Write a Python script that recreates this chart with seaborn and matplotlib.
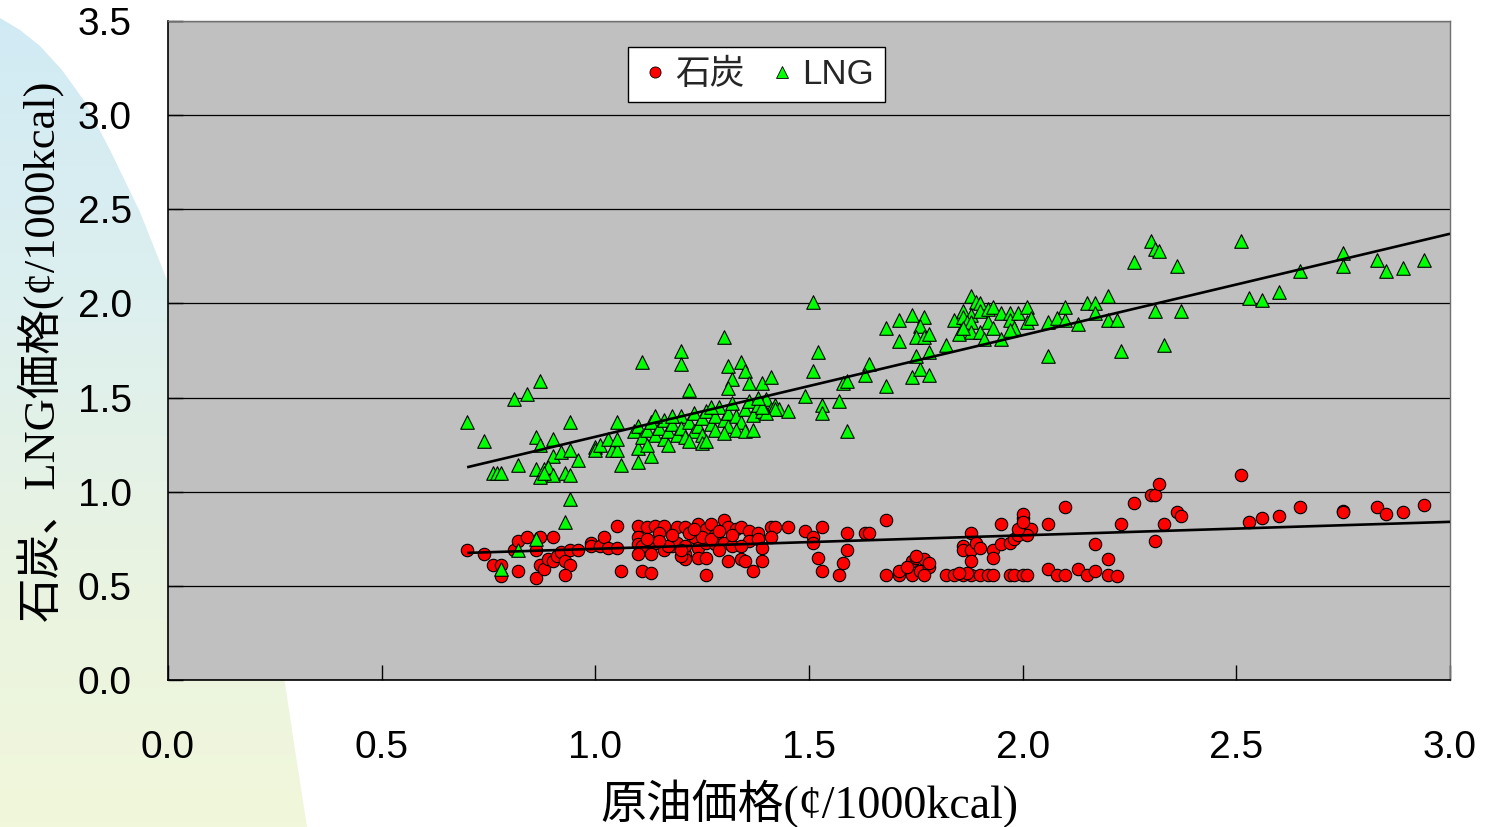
import numpy as np
import pandas as pd
import matplotlib
matplotlib.use("Agg")
import matplotlib.pyplot as plt
import seaborn as sns
from matplotlib.lines import Line2D
from matplotlib.path import Path
from matplotlib.colors import LinearSegmentedColormap
from matplotlib.font_manager import FontProperties

# ---------------- data ----------------
series_names = ["石炭", "LNG"]

coal_x = [0.70, 0.74, 0.76, 0.78, 0.78, 0.81, 0.82, 0.84, 0.82, 0.86,
          0.87, 0.86, 0.87, 0.88, 0.89, 0.90, 0.91, 0.92, 0.93, 0.94,
          0.94, 0.90, 0.93, 0.96, 0.99, 0.99, 1.01, 1.02, 1.03, 1.05,
          1.05, 1.06, 1.10, 1.12, 1.14, 1.16, 1.19, 1.10, 1.10, 1.11,
          1.13, 1.14, 1.15, 1.16, 1.18, 1.11, 1.13, 1.10, 1.13, 1.21,
          1.21, 1.20, 1.19, 1.17, 1.21, 1.23, 1.24, 1.26, 1.27, 1.28,
          1.30, 1.31, 1.33, 1.21, 1.24, 1.26, 1.28, 1.30, 1.32, 1.24,
          1.26, 1.26, 1.31, 1.34, 1.35, 1.37, 1.39, 1.34, 1.36, 1.38,
          1.41, 1.42, 1.36, 1.38, 1.39, 1.41, 1.22, 1.25, 1.27, 1.29,
          1.32, 1.23, 1.18, 1.15, 1.12, 1.20, 1.29, 1.34, 1.45, 1.49,
          1.51, 1.51, 1.53, 1.52, 1.53, 1.57, 1.58, 1.59, 1.59, 1.63,
          1.64, 1.68, 1.68, 1.71, 1.71, 1.74, 1.74, 1.75, 1.77, 1.76,
          1.78, 1.78, 1.77, 1.75, 1.73, 1.82, 1.84, 1.86, 1.88, 1.90,
          1.92, 1.93, 1.87, 1.85, 1.86, 1.86, 1.88, 1.88, 1.89, 1.90,
          1.93, 1.93, 1.88, 1.95, 1.95, 1.97, 1.98, 1.99, 2.00, 2.00,
          2.00, 2.00, 2.01, 2.02, 2.01, 1.99, 2.00, 1.97, 1.98, 2.00,
          2.01, 2.06, 2.10, 2.06, 2.08, 2.10, 2.13, 2.15, 2.17, 2.20,
          2.22, 2.17, 2.20, 2.23, 2.26, 2.30, 2.31, 2.32, 2.31, 2.33,
          2.36, 2.37, 2.51, 2.53, 2.56, 2.60, 2.65, 2.75, 2.75, 2.83,
          2.85, 2.89, 2.94]
coal_y = [0.69, 0.67, 0.61, 0.61, 0.55, 0.69, 0.74, 0.76, 0.58, 0.69,
          0.76, 0.54, 0.61, 0.59, 0.64, 0.63, 0.66, 0.68, 0.63, 0.69,
          0.61, 0.76, 0.56, 0.69, 0.73, 0.71, 0.71, 0.76, 0.70, 0.82,
          0.70, 0.58, 0.82, 0.81, 0.82, 0.82, 0.81, 0.76, 0.72, 0.71,
          0.73, 0.73, 0.78, 0.69, 0.71, 0.58, 0.57, 0.67, 0.67, 0.67,
          0.64, 0.66, 0.73, 0.71, 0.81, 0.76, 0.83, 0.80, 0.83, 0.77,
          0.85, 0.81, 0.80, 0.71, 0.70, 0.73, 0.72, 0.73, 0.71, 0.65,
          0.65, 0.56, 0.63, 0.64, 0.63, 0.58, 0.63, 0.81, 0.79, 0.78,
          0.81, 0.81, 0.74, 0.75, 0.70, 0.76, 0.78, 0.76, 0.75, 0.79,
          0.77, 0.80, 0.77, 0.74, 0.75, 0.69, 0.69, 0.71, 0.81, 0.79,
          0.76, 0.73, 0.81, 0.65, 0.58, 0.56, 0.62, 0.69, 0.78, 0.78,
          0.78, 0.85, 0.56, 0.56, 0.58, 0.56, 0.63, 0.65, 0.64, 0.58,
          0.60, 0.62, 0.56, 0.66, 0.60, 0.56, 0.56, 0.56, 0.56, 0.56,
          0.56, 0.56, 0.57, 0.57, 0.71, 0.69, 0.78, 0.69, 0.73, 0.70,
          0.69, 0.65, 0.63, 0.83, 0.72, 0.73, 0.75, 0.77, 0.79, 0.82,
          0.86, 0.88, 0.80, 0.80, 0.77, 0.80, 0.84, 0.56, 0.56, 0.56,
          0.56, 0.83, 0.92, 0.59, 0.56, 0.56, 0.59, 0.56, 0.58, 0.56,
          0.55, 0.72, 0.64, 0.83, 0.94, 0.98, 0.98, 1.04, 0.74, 0.83,
          0.89, 0.87, 1.09, 0.84, 0.86, 0.87, 0.92, 0.90, 0.89, 0.92,
          0.88, 0.89, 0.93]

lng_x = [0.70, 0.74, 0.76, 0.77, 0.78, 0.78, 0.82, 0.86, 0.93, 0.94,
         0.81, 0.84, 0.87, 0.82, 0.86, 0.87, 0.90, 0.90, 0.86, 0.87,
         0.88, 0.89, 0.90, 0.88, 0.92, 0.94, 0.94, 0.93, 0.94, 0.96,
         1.00, 1.00, 1.01, 1.03, 1.04, 1.05, 1.05, 1.05, 1.06, 1.11,
         1.20, 1.20, 1.22, 1.10, 1.10, 1.13, 1.09, 1.10, 1.11, 1.12,
         1.13, 1.14, 1.15, 1.16, 1.16, 1.17, 1.18, 1.19, 1.20, 1.20,
         1.21, 1.22, 1.23, 1.23, 1.24, 1.25, 1.25, 1.26, 1.27, 1.28,
         1.28, 1.29, 1.30, 1.31, 1.31, 1.32, 1.33, 1.34, 1.35, 1.36,
         1.37, 1.38, 1.39, 1.40, 1.41, 1.42, 1.43, 1.22, 1.25, 1.18,
         1.14, 1.12, 1.27, 1.30, 1.33, 1.35, 1.17, 1.26, 1.37, 1.51,
         1.30, 1.31, 1.34, 1.35, 1.32, 1.31, 1.36, 1.39, 1.41, 1.52,
         1.51, 1.49, 1.53, 1.53, 1.57, 1.59, 1.58, 1.59, 1.45, 1.42,
         1.40, 1.39, 1.38, 1.64, 1.63, 1.68, 1.68, 1.71, 1.71, 1.74,
         1.77, 1.76, 1.75, 1.77, 1.78, 1.74, 1.76, 1.78, 1.75, 1.78,
         1.82, 1.88, 1.89, 1.90, 1.84, 1.86, 1.86, 1.88, 1.90, 1.87,
         1.88, 1.85, 1.88, 1.90, 1.86, 1.92, 1.93, 1.92, 1.93, 1.95,
         1.97, 1.97, 1.99, 2.01, 2.01, 2.02, 1.98, 1.97, 1.91, 1.95,
         2.06, 2.08, 2.10, 2.10, 2.13, 2.15, 2.17, 2.17, 2.20, 2.20,
         2.22, 2.06, 2.23, 2.31, 2.33, 2.26, 2.30, 2.31, 2.32, 2.36,
         2.37, 2.51, 2.53, 2.56, 2.60, 2.65, 2.75, 2.75, 2.83, 2.85,
         2.89, 2.94]
lng_y = [1.37, 1.27, 1.10, 1.10, 1.10, 0.59, 0.69, 0.75, 0.84, 0.96,
         1.49, 1.52, 1.59, 1.14, 1.29, 1.25, 1.28, 1.19, 1.12, 1.08,
         1.12, 1.13, 1.09, 1.10, 1.21, 1.37, 1.22, 1.10, 1.09, 1.17,
         1.24, 1.22, 1.25, 1.28, 1.22, 1.22, 1.28, 1.37, 1.14, 1.69,
         1.75, 1.68, 1.54, 1.23, 1.16, 1.19, 1.32, 1.35, 1.29, 1.33,
         1.37, 1.30, 1.34, 1.38, 1.28, 1.32, 1.36, 1.30, 1.40, 1.34,
         1.29, 1.37, 1.42, 1.32, 1.35, 1.39, 1.30, 1.43, 1.36, 1.33,
         1.40, 1.45, 1.38, 1.35, 1.42, 1.47, 1.40, 1.37, 1.44, 1.48,
         1.41, 1.46, 1.43, 1.49, 1.44, 1.46, 1.44, 1.27, 1.26, 1.40,
         1.40, 1.25, 1.45, 1.31, 1.33, 1.32, 1.25, 1.27, 1.33, 2.01,
         1.82, 1.67, 1.69, 1.64, 1.60, 1.55, 1.58, 1.58, 1.61, 1.74,
         1.64, 1.51, 1.46, 1.42, 1.48, 1.32, 1.58, 1.59, 1.43, 1.44,
         1.42, 1.45, 1.50, 1.68, 1.62, 1.56, 1.87, 1.91, 1.80, 1.94,
         1.93, 1.88, 1.82, 1.82, 1.84, 1.61, 1.65, 1.62, 1.72, 1.74,
         1.78, 2.04, 2.01, 2.00, 1.91, 1.96, 1.93, 1.94, 1.96, 1.90,
         1.90, 1.84, 1.85, 1.85, 1.87, 1.90, 1.87, 1.97, 1.98, 1.95,
         1.95, 1.91, 1.95, 1.98, 1.90, 1.92, 1.87, 1.86, 1.81, 1.81,
         1.90, 1.92, 1.91, 1.98, 1.89, 2.00, 2.00, 1.95, 2.04, 1.91,
         1.91, 1.72, 1.75, 1.96, 1.78, 2.22, 2.33, 2.29, 2.28, 2.20,
         1.96, 2.33, 2.03, 2.02, 2.06, 2.17, 2.27, 2.20, 2.23, 2.17,
         2.19, 2.23]

# trend lines (start / end)
trend_x = [0.70, 3.00]
coal_trend = [0.675, 0.84]
lng_trend = [1.13, 2.37]

x_ticks = [0.0, 0.5, 1.0, 1.5, 2.0, 2.5, 3.0]
y_ticks = [0.0, 0.5, 1.0, 1.5, 2.0, 2.5, 3.0, 3.5]
x_label = "原油価格(¢/1000kcal)"
y_label = "石炭、LNG価格(¢/1000kcal)"

# ---------------- style ----------------
sns.set_theme(style="white")
plt.rcParams["font.family"] = ["Liberation Sans", "Noto Sans CJK JP", "DejaVu Sans"]

W, H = 1487, 827
fig = plt.figure(figsize=(W / 100, H / 100), dpi=100)
fig.patch.set_facecolor("white")

# decorative gradient swoosh at the left
bg = fig.add_axes([0, 0, 1, 1], zorder=-10)
bg.set_xlim(0, W)
bg.set_ylim(H, 0)
bg.axis("off")
cmap = LinearSegmentedColormap.from_list(
    "swoosh", ["#d0eaf4", "#dceff0", "#e8f3e2", "#f1f7da"])
grad = np.linspace(0, 1, 256)[:, None]
im = bg.imshow(grad, extent=[0, W, H, 0], cmap=cmap, aspect="auto",
               interpolation="bilinear")
edge = [(0, 18), (20, 30), (40, 46), (62, 70), (85, 102), (110, 150),
        (140, 212), (167, 280), (195, 355), (225, 440), (250, 520),
        (268, 590), (283, 670), (295, 750), (307, 827), (0, 827)]
clip = Path(edge + [edge[0]], closed=True)
im.set_clip_path(clip, transform=bg.transData)

# main axes
L, R, T, B = 168, 1450, 21, 680
ax = fig.add_axes([L / W, (H - B) / H, (R - L) / W, (B - T) / H])
ax.set_facecolor("#c0c0c0")

df_coal = pd.DataFrame({"x": coal_x, "y": coal_y, "燃料": series_names[0]})
df_lng = pd.DataFrame({"x": lng_x, "y": lng_y, "燃料": series_names[1]})

sns.scatterplot(data=df_coal, x="x", y="y", marker="o", color="#ff0000",
                edgecolor="black", linewidth=0.8, s=80, ax=ax, zorder=3,
                legend=False)
sns.scatterplot(data=df_lng, x="x", y="y", marker="^", color="#00ff00",
                edgecolor="black", linewidth=0.8, s=95, ax=ax, zorder=4,
                legend=False)
ax.plot(trend_x, coal_trend, color="black", lw=1.9, zorder=5,
        solid_capstyle="butt")
ax.plot(trend_x, lng_trend, color="black", lw=1.9, zorder=5,
        solid_capstyle="butt")

ax.set_xlim(0, 3.0)
ax.set_ylim(0, 3.5)
ax.set_xticks(x_ticks)
ax.set_yticks(y_ticks)
ax.set_xticklabels([f"{v:.1f}" for v in x_ticks])
ax.set_yticklabels([f"{v:.1f}" for v in y_ticks])
ax.yaxis.grid(True, color="black", lw=0.9)
ax.xaxis.grid(False)
ax.set_axisbelow(True)

tick_font = FontProperties(family=["Liberation Sans"], size=28)
for lab in ax.get_xticklabels() + ax.get_yticklabels():
    lab.set_fontproperties(tick_font)
    lab.set_color("black")
ax.tick_params(axis="x", direction="in", length=11, width=1, color="black",
               pad=36, bottom=True)
ax.tick_params(axis="y", direction="in", length=11, width=1, color="black",
               pad=26, left=True)

for s in ["left", "bottom"]:
    ax.spines[s].set_color("black")
    ax.spines[s].set_linewidth(1.2)
for s in ["top", "right"]:
    ax.spines[s].set_color("#707070")
    ax.spines[s].set_linewidth(1.0)

xlabel_font = FontProperties(family=["Liberation Serif", "Noto Sans CJK JP"], size=33)
ylabel_font = FontProperties(family=["Liberation Serif", "Noto Sans CJK JP"], size=32)
ax.set_xlabel(x_label, fontproperties=xlabel_font, labelpad=10, color="black")
ax.set_ylabel(y_label, fontproperties=ylabel_font, labelpad=10, color="black")

handles = [
    Line2D([], [], ls="none", marker="o", markersize=8, markerfacecolor="#ff0000",
           markeredgecolor="black", markeredgewidth=0.6, label=series_names[0]),
    Line2D([], [], ls="none", marker="^", markersize=8, markerfacecolor="#00ff00",
           markeredgecolor="black", markeredgewidth=0.6, label=series_names[1]),
]
leg_font = FontProperties(family=["Liberation Sans", "Noto Sans CJK JP"], size=25)
leg = ax.legend(handles=handles, ncol=2, loc="upper left",
                bbox_to_anchor=((628 - L) / (R - L), (B - 47) / (B - T)),
                prop=leg_font, frameon=True, fancybox=False, shadow=False,
                handlelength=0.9, handletextpad=0.15, columnspacing=0.6,
                borderpad=0.32, borderaxespad=0)
leg.get_frame().set_facecolor("white")
leg.get_frame().set_edgecolor("black")
leg.get_frame().set_linewidth(1.0)
leg.get_frame().set_alpha(1.0)

fig.savefig("out.png", dpi=100, facecolor=fig.get_facecolor())
